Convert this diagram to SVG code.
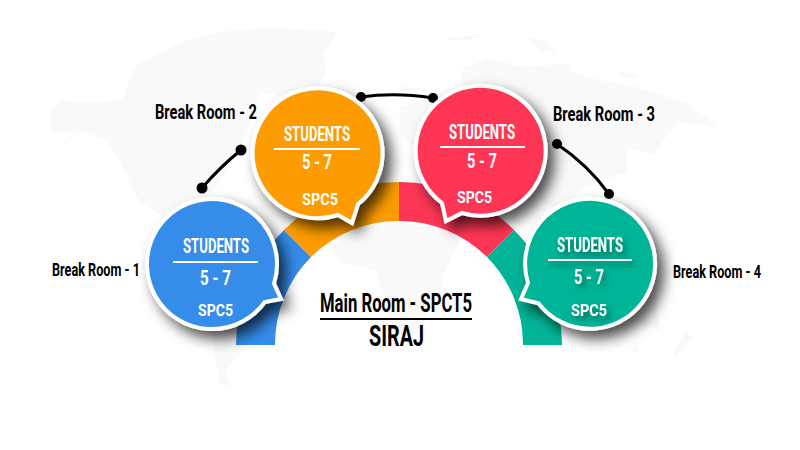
<svg xmlns="http://www.w3.org/2000/svg" width="800" height="450" viewBox="0 0 800 450">
<style>
text{font-family:"Roboto","Liberation Sans",sans-serif;font-weight:700}
.w{fill:#fff}.k{fill:#000}
.b{stroke:#fff;stroke-width:4;stroke-linejoin:miter;filter:url(#sh)}
.r{stroke:#fff;stroke-width:2}
.c{fill:none;stroke:#000;stroke-width:3;stroke-linecap:round}
.map{fill:#f9f9f9}
</style>
<defs>
<filter id="sh" x="-30%" y="-30%" width="170%" height="170%"><feDropShadow dx="7" dy="8" stdDeviation="7" flood-color="#000" flood-opacity=".7"/></filter>
<filter id="ts" x="-30%" y="-30%" width="170%" height="170%"><feDropShadow dx="3" dy="4" stdDeviation="3" flood-color="#000" flood-opacity=".45"/></filter>
</defs>
<rect width="800" height="450" fill="#fff"/>
<g id="map" class="map">
<path d="M50 112L63 101L93 103L123 98L128 83L137 65L187 40L220 32L270 27L337 32L323 55L327 72L317 87L300 100L260 92L247 132L240 148L220 182L205 200L195 215L235 240L262 262L250 300L247 345L225 372L232 388L220 385L212 340L200 290L178 250L160 215L137 198L120 162L107 140L83 132L53 150L77 133L52 132Z"/>
<path d="M400 108L460 85L463 68L488 58L523 67L570 63L573 73L600 80L640 88L687 103L717 127L677 122L653 155L627 148L627 172L582 188L560 215L530 190L500 170L460 155L420 150L400 135Z"/>
<path d="M443 38L483 35L470 40L450 40Z"/>
<path d="M527 38L545 40L557 53L540 50Z"/>
<path d="M617 72L630 72L642 78L625 78Z"/>
<path d="M400 87L420 88L418 93L402 92Z"/>
<path d="M330 248L340 262L375 270L385 300L395 335L415 335L435 300L445 272L460 240L433 228L400 222L360 225Z"/>
<path d="M600 260L650 250L660 330L620 320Z"/>
<path d="M631 347L639 348L637 352L633 352Z"/>
<path d="M685 332L693 338L680 352L673 357L675 350Z"/>
</g>
<g id="ring">
<path d="M236 345A163 163 0 0 1 284 230L311 257A124 124 0 0 0 275 345Z" fill="#348ce9"/>
<path d="M284 230A163 163 0 0 1 399 182V221A124 124 0 0 0 311 257Z" fill="#fd9c02"/>
<path d="M399 182A163 163 0 0 1 514 230L487 257A124 124 0 0 0 399 221Z" fill="#fe3655"/>
<path d="M514 230A163 163 0 0 1 562 345H523A124 124 0 0 0 487 257Z" fill="#02b497"/>
</g>
<g id="connectors">
<path class="c" d="M202 188Q220 167 241 150"/>
<path class="c" d="M361 97Q395 92 433 98"/>
<path class="c" d="M557 144Q588 165 609 194"/>
<circle cx="202" cy="188" r="5.5"/><circle cx="241" cy="150" r="5.5"/><circle cx="361" cy="97" r="5"/><circle cx="433" cy="98" r="5"/><circle cx="557" cy="144" r="5"/><circle cx="609" cy="194" r="5"/>
</g>
<g id="room1">
<path class="b" fill="#348ce9" d="M274 283.6A65 65 0 1 0 264.8 302L281 299Z"/>
<text class="w" x="183" y="253" font-size="20" textLength="66" lengthAdjust="spacingAndGlyphs">STUDENTS</text>
<line class="r" x1="173" y1="262" x2="258" y2="262"/>
<text class="w" x="200" y="285" font-size="21" textLength="31" lengthAdjust="spacingAndGlyphs">5 - 7</text>
<text class="w" x="198" y="316" font-size="17" textLength="35" lengthAdjust="spacingAndGlyphs">SPC5</text>
</g>
<g id="room2">
<path class="b" fill="#fd9c02" d="M358 204.2A65 65 0 1 0 338 215L352 223Z"/>
<text class="w" x="284" y="141" font-size="20" textLength="66" lengthAdjust="spacingAndGlyphs">STUDENTS</text>
<line class="r" x1="274" y1="149" x2="360" y2="149"/>
<text class="w" x="302" y="169" font-size="21" textLength="30" lengthAdjust="spacingAndGlyphs">5 - 7</text>
<text class="w" x="302" y="205" font-size="17" textLength="36" lengthAdjust="spacingAndGlyphs">SPC5</text>
</g>
<g id="room3">
<path class="b" fill="#fe3655" d="M462 213A65 65 0 1 0 442 203L446 221Z"/>
<text class="w" x="449" y="139" font-size="20" textLength="66" lengthAdjust="spacingAndGlyphs">STUDENTS</text>
<line class="r" x1="440" y1="147" x2="525" y2="147"/>
<text class="w" x="467" y="168" font-size="21" textLength="30" lengthAdjust="spacingAndGlyphs">5 - 7</text>
<text class="w" x="457" y="203" font-size="17" textLength="35" lengthAdjust="spacingAndGlyphs">SPC5</text>
</g>
<g id="room4">
<path class="b" fill="#02b497" d="M528 283A65 65 0 1 1 538.4 303.2L521 299Z"/>
<g filter="url(#ts)">
<text class="w" x="557" y="252" font-size="20" textLength="66" lengthAdjust="spacingAndGlyphs">STUDENTS</text>
<line class="r" x1="548" y1="260" x2="632" y2="260"/>
<text class="w" x="574" y="284" font-size="21" textLength="30" lengthAdjust="spacingAndGlyphs">5 - 7</text>
<text class="w" x="571" y="316" font-size="17" textLength="36" lengthAdjust="spacingAndGlyphs">SPC5</text>
</g>
</g>
<g id="labels">
<text class="k" x="155" y="119" font-size="20" textLength="102" lengthAdjust="spacingAndGlyphs">Break Room - 2</text>
<text class="k" x="553" y="121" font-size="20" textLength="102" lengthAdjust="spacingAndGlyphs">Break Room - 3</text>
<text class="k" x="52" y="276" font-size="18" textLength="88" lengthAdjust="spacingAndGlyphs">Break Room - 1</text>
<text class="k" x="673" y="278" font-size="18" textLength="88" lengthAdjust="spacingAndGlyphs">Break Room - 4</text>
</g>
<g id="main">
<text class="k" x="320" y="312" font-size="25" textLength="152" lengthAdjust="spacingAndGlyphs">Main Room - SPCT5</text>
<line x1="320" y1="319" x2="472" y2="319" stroke="#000" stroke-width="2"/>
<text class="k" x="369" y="346" font-size="29" textLength="55" lengthAdjust="spacingAndGlyphs">SIRAJ</text>
</g>
</svg>
